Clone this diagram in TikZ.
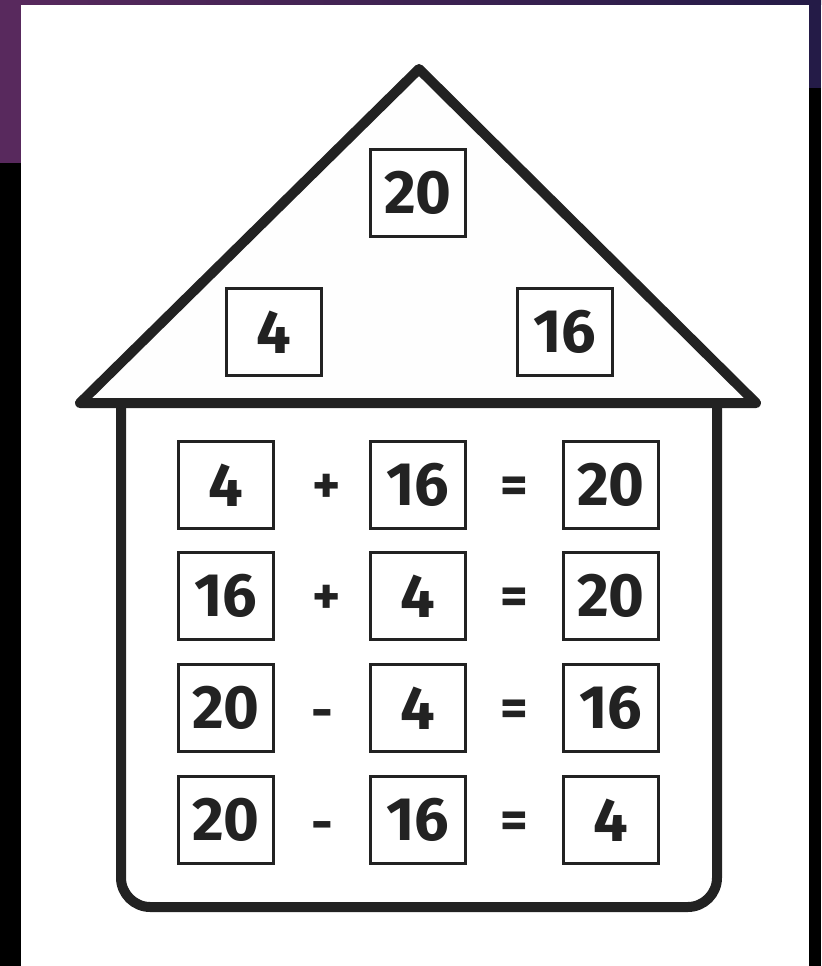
\documentclass[tikz,border=0pt]{standalone}
\usepackage{fontspec}
\setmainfont{Fira Sans}
\definecolor{ink}{HTML}{222222}
\definecolor{purp}{HTML}{58295D}
\definecolor{navy}{HTML}{241B47}
\begin{document}
\begin{tikzpicture}[x=0.75pt,y=-0.75pt,
  numbox/.style={draw=ink, line width=2.3pt, fill=white, minimum width=71pt, minimum height=65pt, inner sep=0pt, font=\fontsize{46}{46}\selectfont\bfseries, text=ink},
  opsym/.style={inner sep=0pt, font=\fontsize{40}{40}\selectfont\bfseries, text=ink},
  wall/.style={draw=ink, line width=7.5pt}]
\useasboundingbox (0,0) rectangle (821,966);
% background
\fill[black] (0,0) rectangle (821,966);
\shade[left color=purp, right color=navy] (0,0) rectangle (821,5);
\fill[purp] (0,0) rectangle (21,163);
\fill[navy] (809,0) rectangle (821,88);
\fill[white] (21,5) rectangle (809,966);
% house body
\draw[wall, fill=white, rounded corners=22pt] (121,403) -- (121,907) -- (717,907) -- (717,403);
% roof
\draw[wall, fill={rgb,255:red,254;green,254;blue,254}, line join=round] (80,403) -- (419,69) -- (756,403) -- cycle;
% roof numbers
\node[numbox] (top) at (418,193) {20};
\node[numbox] (rl) at (274,332) {4};
\node[numbox] (rr) at (565,332) {16};
% rows
\node[numbox] (a1) at (226,485) {4};
\node[opsym] (p1) at (327,489) {+};
\node[numbox] (b1) at (418,485) {16};
\node[opsym] (e1) at (514,490) {=};
\node[numbox] (c1) at (611,485) {20};

\node[numbox] (a2) at (226,596) {16};
\node[opsym] (p2) at (327,600) {+};
\node[numbox] (b2) at (418,596) {4};
\node[opsym] (e2) at (514,601) {=};
\node[numbox] (c2) at (611,596) {20};

\node[numbox] (a3) at (226,708) {20};
\node[opsym] (p3) at (322,720) {-};
\node[numbox] (b3) at (418,708) {4};
\node[opsym] (e3) at (514,713) {=};
\node[numbox] (c3) at (611,708) {16};

\node[numbox] (a4) at (226,820) {20};
\node[opsym] (p4) at (322,832) {-};
\node[numbox] (b4) at (418,820) {16};
\node[opsym] (e4) at (514,825) {=};
\node[numbox] (c4) at (611,820) {4};
\end{tikzpicture}
\end{document}
